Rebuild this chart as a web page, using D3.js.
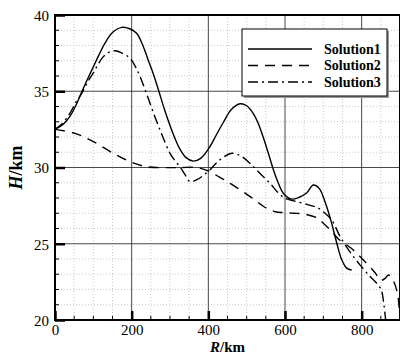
<!DOCTYPE html>
<html><head><meta charset="utf-8">
<script src="https://cdnjs.cloudflare.com/ajax/libs/d3/7.8.5/d3.min.js"></script>
<style>body{margin:0;background:#fff}svg{display:block}svg text{font-family:"Liberation Serif","Times New Roman",serif}</style>
</head><body><svg id="c" width="400" height="355"></svg>
<script>
const seriesNames = ["Solution1","Solution2","Solution3"];
const xTicks = [0,200,400,600,800];
const yTicks = [20,25,30,35,40];
const r1 = [0,20,39,55,70,85,100,115,130,150,174,195,213,230,243,257,270,285,300,313,326,342,361,380,404,420,439,460,483,500,517,530,543,557,570,583,596,617,637,657,674,690,705,720,735,748,761,774];
const h1 = [32.5,32.8,33.35,34.1,34.97,35.8,36.6,37.4,38.14,38.85,39.19,39.1,38.8,37.95,37.05,36.1,35.08,33.85,32.75,31.9,31.2,30.65,30.42,30.6,31.36,32.1,32.95,33.8,34.18,34.05,33.55,32.9,32.0,30.9,29.84,28.95,28.3,27.93,28.05,28.35,28.85,28.6,27.7,26.5,25.05,23.95,23.4,23.28];
const r2 = [0,52,100,152,196,239,291,330,370,404,430,457,509,552,575,596,622,650,683,700,720,740,773,804,835,850,862,870,882,893,898,903];
const h2 = [32.5,32.24,31.7,30.93,30.38,30.05,29.99,30.0,30.0,29.72,29.35,28.96,28.09,27.33,27.1,27.04,27.0,26.95,26.7,26.35,25.85,25.3,24.7,23.95,23.1,22.6,22.75,22.95,22.6,21.8,20.8,19.8];
const r3 = [0,20,40,55,70,85,100,113,126,140,157,175,196,210,222,235,248,261,274,287,300,313,326,340,352,370,388,404,430,461,485,509,535,561,580,600,625,648,668,683,700,722,744,770,796,822,843,852,858,863];
const h3 = [32.5,32.9,33.6,34.3,34.87,35.6,36.2,36.8,37.27,37.55,37.66,37.5,37.16,36.6,35.95,35.1,34.2,33.3,32.46,31.65,30.93,30.45,30.05,29.5,29.07,29.2,29.5,29.84,30.5,30.93,30.75,30.27,29.6,28.96,28.4,27.98,27.8,27.65,27.5,27.39,27.1,26.55,25.46,24.45,23.6,22.85,22.3,21.9,21.0,19.9];

const L=55,R=400,T=15,B=320;
const svg=d3.select("#c");
const x=d3.scaleLinear().domain([0,900]).range([L,R]);
const y=d3.scaleLinear().domain([20,40]).range([B,T]);
const font="Liberation Serif";

const g=svg.append("g");
g.selectAll(".mx").data(d3.range(50,900,50).filter(v=>v%200)).join("line")
 .attr("x1",d=>x(d)).attr("x2",d=>x(d)).attr("y1",T).attr("y2",B)
 .attr("stroke","#bbb").attr("stroke-width",0.8).attr("stroke-dasharray","1,2");
g.selectAll(".my").data(d3.range(21,40,1).filter(v=>v%5)).join("line")
 .attr("y1",d=>y(d)).attr("y2",d=>y(d)).attr("x1",L).attr("x2",R)
 .attr("stroke","#bbb").attr("stroke-width",0.8).attr("stroke-dasharray","1,2");
g.selectAll(".Mx").data(xTicks.slice(1)).join("line")
 .attr("x1",d=>x(d)).attr("x2",d=>x(d)).attr("y1",T).attr("y2",B)
 .attr("stroke","#333").attr("stroke-width",0.9);
g.selectAll(".My").data([25,30,35]).join("line")
 .attr("y1",d=>y(d)).attr("y2",d=>y(d)).attr("x1",L).attr("x2",R)
 .attr("stroke","#333").attr("stroke-width",0.9);

svg.append("clipPath").attr("id","cp").append("rect").attr("x",L).attr("y",T).attr("width",R-L).attr("height",B-T);
const line=d3.line().x(d=>x(d[0])).y(d=>y(d[1])).curve(d3.curveCatmullRom.alpha(0.5));
const data=[d3.zip(r1,h1),d3.zip(r2,h2),d3.zip(r3,h3)];
const dashes=[null,"10,7","10,4,2,4"];
const cg=svg.append("g").attr("clip-path","url(#cp)");
data.forEach((d,i)=>{
 cg.append("path").attr("d",line(d)).attr("fill","none").attr("stroke","#000")
  .attr("stroke-width",1.4).attr("stroke-dasharray",dashes[i]);
});

const ax=svg.append("g").attr("transform",`translate(0,${B})`)
 .call(d3.axisBottom(x).tickValues(xTicks).tickSizeInner(-9).tickSizeOuter(0).tickPadding(4));
const ay=svg.append("g").attr("transform",`translate(${L},0)`)
 .call(d3.axisLeft(y).tickValues(yTicks).tickSizeInner(-10).tickSizeOuter(0).tickPadding(6));
[ax,ay].forEach(a=>{
 a.attr("font-family",font);
 a.select(".domain").remove();
 a.selectAll(".tick line").attr("stroke","#000").attr("stroke-width",2.5);
 a.selectAll("text").attr("font-family",font).attr("font-size",15).attr("fill","#000");
});
ay.selectAll(".tick text").attr("dy","0.35em");
svg.append("g").selectAll("line").data(d3.range(50,900,50).filter(v=>v%200)).join("line")
 .attr("x1",d=>x(d)).attr("x2",d=>x(d)).attr("y1",B).attr("y2",B-4).attr("stroke","#000").attr("stroke-width",1);
svg.append("g").selectAll("line").data(d3.range(21,40,1).filter(v=>v%5)).join("line")
 .attr("y1",d=>y(d)).attr("y2",d=>y(d)).attr("x1",L).attr("x2",L+4).attr("stroke","#000").attr("stroke-width",1);
svg.append("rect").attr("x",L).attr("y",T).attr("width",R-L).attr("height",B-T)
 .attr("fill","none").attr("stroke","#000").attr("stroke-width",2);

const xt=svg.append("text").attr("x",(L+R)/2).attr("y",351.5).attr("text-anchor","middle")
 .attr("font-family",font).attr("font-size",15).attr("font-weight","bold");
xt.append("tspan").attr("font-style","italic").text("R");
xt.append("tspan").text("/km");
const yt=svg.append("text").attr("transform",`translate(22,${(T+B)/2}) rotate(-90)`).attr("text-anchor","middle")
 .attr("font-family",font).attr("font-size",18).attr("font-weight","bold");
yt.append("tspan").attr("font-style","italic").text("H");
yt.append("tspan").text("/km");

const lg=svg.append("g");
lg.append("rect").attr("x",244).attr("y",31).attr("width",145).attr("height",67).attr("fill","#999");
lg.append("rect").attr("x",242).attr("y",29).attr("width",145).attr("height",67).attr("fill","#fff").attr("stroke","#000").attr("stroke-width",1);
seriesNames.forEach((n,i)=>{
 const yy=49+i*16.5;
 lg.append("line").attr("x1",248).attr("x2",312).attr("y1",yy).attr("y2",yy)
  .attr("stroke","#000").attr("stroke-width",1.4).attr("stroke-dasharray",dashes[i]);
 lg.append("text").attr("x",324).attr("y",yy).attr("dy","0.35em").attr("font-family",font)
  .attr("font-size",14).attr("font-weight","bold").text(n);
});
</script></body></html>
